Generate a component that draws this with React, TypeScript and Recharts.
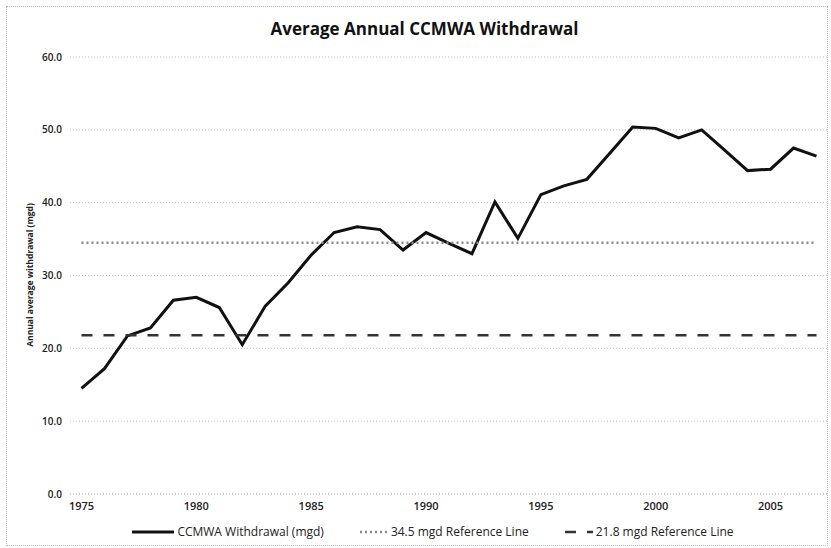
import { LineChart, Line, XAxis, YAxis, CartesianGrid, Legend } from "recharts";

const years = [
  1975, 1976, 1977, 1978, 1979, 1980, 1981, 1982, 1983, 1984, 1985, 1986, 1987, 1988, 1989, 1990, 1991,
  1992, 1993, 1994, 1995, 1996, 1997, 1998, 1999, 2000, 2001, 2002, 2003, 2004, 2005, 2006, 2007,
];

const withdrawal = [
  14.5, 17.2, 21.7, 22.8, 26.6, 27.0, 25.6, 20.5, 25.8, 29.0, 32.8, 35.9, 36.7, 36.3, 33.5, 35.9, 34.4,
  33.0, 40.1, 35.1, 41.1, 42.3, 43.2, 46.8, 50.4, 50.2, 48.9, 50.0, 47.2, 44.4, 44.6, 47.5, 46.4,
];

// reference lines run from first to last year
const ref345 = [
  { year: 1975, value: 34.5 },
  { year: 2007, value: 34.5 },
];
const ref218 = [
  { year: 1975, value: 21.8 },
  { year: 2007, value: 21.8 },
];

const seriesNames = ["CCMWA Withdrawal (mgd)", "34.5 mgd Reference Line", "21.8 mgd Reference Line"];
const xTicks = [1975, 1980, 1985, 1990, 1995, 2000, 2005];
const yTicks = [0, 10, 20, 30, 40, 50, 60];

const data = years.map((year, i) => ({ year, value: withdrawal[i] }));

const FONT = "'Open Sans', 'DejaVu Sans', sans-serif";

const LegendContent = (props: any) => {
  const items = [...(props.payload || [])].sort(
    (a: any, b: any) => seriesNames.indexOf(a.value) - seriesNames.indexOf(b.value)
  );
  return (
    <div
      style={{
        display: "flex", justifyContent: "center", alignItems: "center", fontFamily: FONT,
        fontSize: 12, color: "#222", paddingLeft: 28, paddingTop: 5,
      }}
    >
      {items.map((entry: any, i: number) => {
        const p = entry.payload || {};
        const w = i === 0 ? 42 : 28;
        return (
          <div key={i} style={{ display: "flex", alignItems: "center", marginLeft: i === 0 ? 0 : 36 }}>
            <svg width={w} height={8} style={{ marginRight: 3 }}>
              <line x1={0} y1={4} x2={w} y2={4} stroke={p.stroke} strokeWidth={p.strokeWidth} strokeDasharray={p.strokeDasharray} />
            </svg>
            <span>{entry.value}</span>
          </div>
        );
      })}
    </div>
  );
};

export default function App() {
  return (
    <div style={{ position: "absolute", left: 0, top: 0, width: 831, height: 548, background: "#fff" }}>
      <div
        style={{
          position: "absolute", left: 6, top: 6, width: 820, height: 538,
          border: "1px dotted #b8b8b8",
        }}
      />
      <div
        style={{
          position: "absolute", left: 0, top: 17, width: 849, textAlign: "center",
          fontFamily: FONT, fontWeight: 700, fontSize: 17, color: "#111",
        }}
      >
        Average Annual CCMWA Withdrawal
      </div>
      <div
        style={{
          position: "absolute", left: 29, top: 275, transform: "translate(-50%, -50%) rotate(-90deg)",
          whiteSpace: "nowrap", fontFamily: FONT, fontWeight: 700, fontSize: 8.5, color: "#222",
        }}
      >
        Annual average withdrawal (mgd)
      </div>
      <LineChart width={831} height={548} data={data} margin={{ top: 57, right: 3, bottom: 0, left: 10 }}>
        <CartesianGrid vertical={false} stroke="#bdbdbd" strokeDasharray="1 2" />
        <XAxis
          dataKey="year"
          type="number"
          domain={[1974.5, 2007.5]}
          ticks={xTicks}
          allowDataOverflow
          height={24}
          axisLine={{ stroke: "#c4c4c4", strokeDasharray: "1 2" }}
          tickLine={false}
          tick={{ fontFamily: FONT, fontSize: 11, fill: "#222", fontWeight: 600 }}
        />
        <YAxis
          width={60}
          domain={[0, 60]}
          ticks={yTicks}
          tickFormatter={(v: number) => v.toFixed(1)}
          axisLine={false}
          tickLine={false}
          tick={{ fontFamily: FONT, fontSize: 10, fill: "#222", fontWeight: 600 }}
        />
        <Legend verticalAlign="bottom" height={30} content={<LegendContent />} />
        <Line
          name={seriesNames[0]}
          dataKey="value"
          stroke="#111"
          strokeWidth={3}
          dot={false}
          isAnimationActive={false}
          legendType="plainline"
        />
        <Line
          name={seriesNames[1]}
          data={ref345}
          dataKey="value"
          stroke="#8a8a8a"
          strokeWidth={2.5}
          strokeDasharray="2 3"
          dot={false}
          isAnimationActive={false}
          legendType="plainline"
        />
        <Line
          name={seriesNames[2]}
          data={ref218}
          dataKey="value"
          stroke="#333"
          strokeWidth={2.5}
          strokeDasharray="11 11"
          dot={false}
          isAnimationActive={false}
          legendType="plainline"
        />
      </LineChart>
    </div>
  );
}
